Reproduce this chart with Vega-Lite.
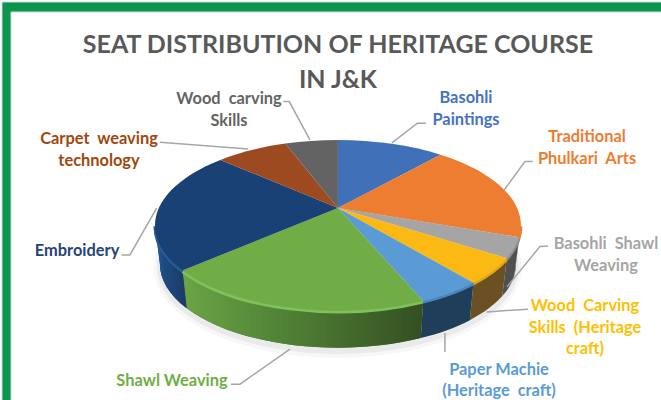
{
"$schema":"https://vega.github.io/schema/vega-lite/v6.json",
"width":661,"height":400,
"autosize":{"type":"fit","contains":"padding"},
"padding":0,
"background":"#ffffff",
"view":{"stroke":null},
"config":{"text":{"font":"Lato"}},
"data":{"values":[
{"order":1,"name":"Basohli Paintings","label":"Basohli\nPaintings","value":11.5},
{"order":2,"name":"Traditional Phulkari Arts","label":"Traditional\nPhulkari\u00a0 Arts","value":18.9},
{"order":3,"name":"Basohli Shawl Weaving","label":"Basohli\u00a0 Shawl\nWeaving","value":3.8},
{"order":4,"name":"Wood Carving Skills (Heritage craft)","label":"Wood\u00a0 Carving\nSkills\u00a0 (Heritage\ncraft)","value":4.8},
{"order":5,"name":"Paper Machie (Heritage craft)","label":"Paper Machie\n(Heritage\u00a0 craft)","value":4.7},
{"order":6,"name":"Shawl Weaving","label":"Shawl Weaving","value":19.8},
{"order":7,"name":"Embroidery","label":"Embroidery","value":23.1},
{"order":8,"name":"Carpet weaving technology","label":"Carpet\u00a0 weaving\ntechnology","value":7.7},
{"order":9,"name":"Wood carving Skills","label":"Wood\u00a0 carving\nSkills","value":5.7}
]},
"transform":[
{"window":[{"op":"sum","field":"value","as":"cum"}],"sort":[{"field":"order"}]},
{"joinaggregate":[{"op":"sum","field":"value","as":"total"}]},
{"calculate":"(datum.cum-datum.value)/datum.total","as":"f0"},
{"calculate":"datum.cum/datum.total","as":"f1"},
{"calculate":"max(datum.f0,0.2828)","as":"r0"},
{"calculate":"min(datum.f1,0.7172)","as":"r1"},
{"calculate":"round(100*179.1*sin(2*PI*datum.f0)*4.88/(4.88+cos(2*PI*datum.f0)))/100","as":"x0"},
{"calculate":"round(-100*81.9*cos(2*PI*datum.f0)*4.88/(4.88+cos(2*PI*datum.f0)))/100","as":"y0"},
{"calculate":"round(100*179.1*sin(2*PI*datum.f1)*4.88/(4.88+cos(2*PI*datum.f1)))/100","as":"x1"},
{"calculate":"round(-100*81.9*cos(2*PI*datum.f1)*4.88/(4.88+cos(2*PI*datum.f1)))/100","as":"y1"},
{"calculate":"round(100*179.1*sin(2*PI*datum.r0)*4.88/(4.88+cos(2*PI*datum.r0)))/100","as":"a0"},
{"calculate":"round(-100*81.9*cos(2*PI*datum.r0)*4.88/(4.88+cos(2*PI*datum.r0)))/100","as":"b0"},
{"calculate":"round(100*179.1*sin(2*PI*datum.r1)*4.88/(4.88+cos(2*PI*datum.r1)))/100","as":"a1"},
{"calculate":"round(-100*81.9*cos(2*PI*datum.r1)*4.88/(4.88+cos(2*PI*datum.r1)))/100","as":"b1"},
{"calculate":"round(97.3*datum.a0)/100","as":"c0"},
{"calculate":"round(100*((datum.b0-17.5)*0.98+56))/100","as":"d0"},
{"calculate":"round(97.3*datum.a1)/100","as":"c1"},
{"calculate":"round(100*((datum.b1-17.5)*0.98+56))/100","as":"d1"},
{"calculate":"'M0,0L'+datum.x0+','+datum.y0+'A183,85.5 0 0 1 '+datum.x1+','+datum.y1+'Z'","as":"topPath"},
{"calculate":"'M'+datum.a0+','+datum.b0+'A183,85.5 0 0 1 '+datum.a1+','+datum.b1+'L'+datum.c1+','+datum.d1+'A178,83.8 0 0 0 '+datum.c0+','+datum.d0+'Z'","as":"rimPath"},
{"calculate":"'M'+datum.a0+','+datum.b0+'A183,85.5 0 0 1 '+datum.a1+','+datum.b1","as":"edgePath"}
],
"layer":[
{"transform":[{"filter":"datum.order==1"}],
 "mark":{"type":"point","filled":true,"opacity":1,"size":4,"fill":"#0b9650","stroke":"#d4d4d4","strokeWidth":1,"shape":"M-1,-1H662V9H8V401H-1Z"},
 "encoding":{"x":{"datum":0,"scale":{"domain":[0,661],"nice":false,"zero":false},"axis":null},"y":{"datum":0,"scale":{"domain":[400,0],"nice":false,"zero":false},"axis":null}}},
{"transform":[{"filter":"datum.order==1"}],
 "mark":{"type":"point","filled":true,"opacity":0.03,"size":4,"fill":"#000000","shape":"M-184,60A184,90 0 1 1 184,60A184,90 0 1 1 -184,60Z"},
 "encoding":{"x":{"datum":338,"scale":{"domain":[0,661],"nice":false,"zero":false},"axis":null},"y":{"datum":208,"scale":{"domain":[400,0],"nice":false,"zero":false},"axis":null}}},
{"transform":[{"filter":"datum.order==1"}],
 "mark":{"type":"point","filled":true,"opacity":0.05,"size":4,"fill":"#000000","shape":"M-181,59A181,87 0 1 1 181,59A181,87 0 1 1 -181,59Z"},
 "encoding":{"x":{"datum":338,"scale":{"domain":[0,661],"nice":false,"zero":false},"axis":null},"y":{"datum":208,"scale":{"domain":[400,0],"nice":false,"zero":false},"axis":null}}},
{"transform":[{"filter":"datum.r1>datum.r0"}],
 "mark":{"type":"point","filled":true,"opacity":1,"size":4},
 "encoding":{"x":{"datum":338,"scale":{"domain":[0,661],"nice":false,"zero":false},"axis":null},"y":{"datum":208,"scale":{"domain":[400,0],"nice":false,"zero":false},"axis":null},
 "shape":{"field":"rimPath","type":"nominal","scale":null},
 "color":{"field":"name","type":"nominal","legend":null,"scale":{"domain":["Basohli Paintings","Traditional Phulkari Arts","Basohli Shawl Weaving","Wood Carving Skills (Heritage craft)","Paper Machie (Heritage craft)","Shawl Weaving","Embroidery","Carpet weaving technology","Wood carving Skills"],"range":["#2a4a80","#7f4419","#505050","#6a5022","#1f3e5a","#4a7430","#1b4273","#6b3210","#404040"]}}}},
{"transform":[{"filter":"datum.name=='Shawl Weaving'"}],
 "mark":{"type":"point","filled":true,"opacity":1,"size":4,"fill":{"gradient":"linear","x1":0,"x2":1,"y1":0,"y2":0,"stops":[{"offset":0,"color":"#6aa545"},{"offset":0.45,"color":"#4f7f35"},{"offset":1,"color":"#344f22"}]}},
 "encoding":{"x":{"datum":338,"scale":{"domain":[0,661],"nice":false,"zero":false},"axis":null},"y":{"datum":208,"scale":{"domain":[400,0],"nice":false,"zero":false},"axis":null},
 "shape":{"field":"rimPath","type":"nominal","scale":null}}},
{"transform":[{"filter":"datum.name=='Embroidery'"}],
 "mark":{"type":"point","filled":true,"opacity":1,"size":4,"fill":{"gradient":"linear","x1":0,"x2":1,"y1":0,"y2":0,"stops":[{"offset":0,"color":"#2c5c9c"},{"offset":0.3,"color":"#1e4a80"},{"offset":1,"color":"#193b66"}]}},
 "encoding":{"x":{"datum":338,"scale":{"domain":[0,661],"nice":false,"zero":false},"axis":null},"y":{"datum":208,"scale":{"domain":[400,0],"nice":false,"zero":false},"axis":null},
 "shape":{"field":"rimPath","type":"nominal","scale":null}}},
{"transform":[{"filter":"datum.r1>datum.r0"}],
 "mark":{"type":"point","filled":false,"opacity":1,"size":4,"strokeWidth":3},
 "encoding":{"x":{"datum":338,"scale":{"domain":[0,661],"nice":false,"zero":false},"axis":null},"y":{"datum":209,"scale":{"domain":[400,0],"nice":false,"zero":false},"axis":null},
 "shape":{"field":"edgePath","type":"nominal","scale":null},
 "color":{"field":"name","type":"nominal","legend":null,"scale":{"domain":["Traditional Phulkari Arts","Basohli Shawl Weaving","Wood Carving Skills (Heritage craft)","Paper Machie (Heritage craft)","Shawl Weaving","Embroidery"],"range":["#ed7d31","#8c8c8c","#e0a818","#4a86bd","#7fc25c","#2a5a98"]}}}},
{"mark":{"type":"point","filled":true,"opacity":1,"size":4},
 "encoding":{"x":{"datum":338,"scale":{"domain":[0,661],"nice":false,"zero":false},"axis":null},"y":{"datum":208,"scale":{"domain":[400,0],"nice":false,"zero":false},"axis":null},
 "shape":{"field":"topPath","type":"nominal","scale":null},
 "color":{"field":"name","type":"nominal","legend":null,"scale":{"domain":["Basohli Paintings","Traditional Phulkari Arts","Basohli Shawl Weaving","Wood Carving Skills (Heritage craft)","Paper Machie (Heritage craft)","Shawl Weaving","Embroidery","Carpet weaving technology","Wood carving Skills"],"range":["#4070b8","#ed7d31","#a5a5a5","#fdb913","#5b9bd5","#70ad47","#1a4175","#9e4a20","#636363"]}}}},
{"mark":{"type":"point","filled":false,"opacity":1,"size":4,"strokeWidth":1.5,"color":"#a6a6a6"},
 "encoding":{"x":{"datum":338,"scale":{"domain":[0,661],"nice":false,"zero":false},"axis":null},"y":{"datum":208,"scale":{"domain":[400,0],"nice":false,"zero":false},"axis":null},
 "shape":{"field":"name","type":"nominal","legend":null,"scale":{"domain":["Basohli Paintings","Traditional Phulkari Arts","Basohli Shawl Weaving","Wood Carving Skills (Heritage craft)","Paper Machie (Heritage craft)","Shawl Weaving","Embroidery","Carpet weaving technology","Wood carving Skills"],"range":["M54,-65L79.5,-84.7L88,-84.7","M166.3,-18L187,-46.3L194.7,-46.3","M169,79L202,38.7L210,38","M148.7,104L190,101.3","M107,125L107,144","M-48,141.3L-98,176.3L-107,176.3","M-181.3,0.3L-208,47L-216.3,47","M-89.7,-59L-178,-65.7","M-28,-68L-48.7,-106.3L-54.7,-106.3"]}}}},
{"mark":{"type":"text","font":"Lato","fontWeight":"bold","fontSize":16.4,"lineBreak":"\n","lineHeight":21.7,"align":"center","baseline":"middle"},
 "encoding":{
 "x":{"field":"order","type":"quantitative","axis":null,"scale":{"domain":[1,2,3,4,5,6,7,8,9],"range":[463,584,603,582,496,169,74,96,226],"nice":false,"zero":false}},
 "y":{"field":"order","type":"quantitative","axis":null,"scale":{"domain":[1,2,3,4,5,6,7,8,9],"range":[95,134,241,303,366.5,378,248,136,96],"nice":false,"zero":false}},
 "text":{"field":"label","type":"nominal"},
 "color":{"field":"name","type":"nominal","legend":null,"scale":{"domain":["Basohli Paintings","Traditional Phulkari Arts","Basohli Shawl Weaving","Wood Carving Skills (Heritage craft)","Paper Machie (Heritage craft)","Shawl Weaving","Embroidery","Carpet weaving technology","Wood carving Skills"],"range":["#4472c4","#ed7d31","#a5a5a5","#ffc000","#5b9bd5","#70ad47","#264478","#9e480e","#636363"]}}}},
{"transform":[{"filter":"datum.order==1"}],
 "mark":{"type":"text","font":"Lato","fontWeight":"bold","fontSize":25,"lineHeight":35,"align":"center","baseline":"middle","color":"#595959","text":["SEAT DISTRIBUTION OF HERITAGE COURSE","IN J&K"]},
 "encoding":{"x":{"datum":338,"scale":{"domain":[0,661],"nice":false,"zero":false},"axis":null},"y":{"datum":43,"scale":{"domain":[400,0],"nice":false,"zero":false},"axis":null}}}
],
"resolve":{"scale":{"x":"independent","y":"independent","color":"independent","shape":"independent"}}
}
